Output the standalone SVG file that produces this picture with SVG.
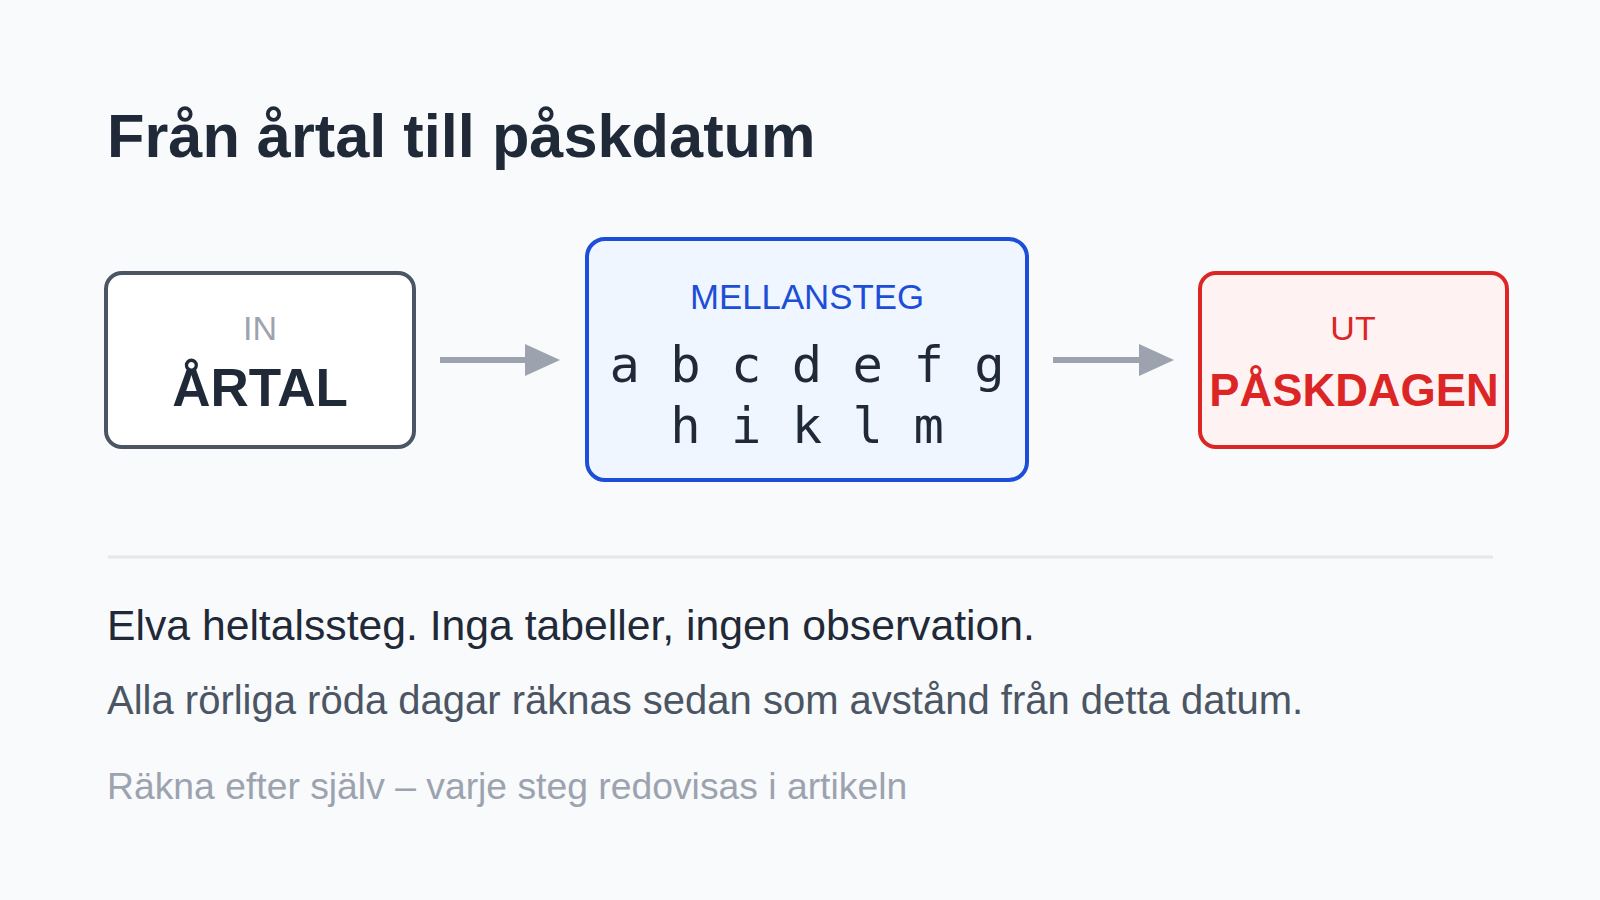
<svg xmlns="http://www.w3.org/2000/svg" width="1600" height="900" viewBox="0 0 1600 900">
  <style>
    .sans { font-family: "Liberation Sans", Arial, Helvetica, sans-serif; }
    .mono { font-family: "DejaVu Sans Mono", "Liberation Mono", monospace; }
    .box { stroke-width: 4; }
    .conn { stroke: #9ca3af; stroke-width: 6; fill: none; }
  </style>
  <defs>
    <marker id="arrow" markerUnits="userSpaceOnUse" viewBox="0 0 35 32" refX="0" refY="16" markerWidth="35" markerHeight="32" orient="auto">
      <path d="M0,0 L35,16 L0,32 Z" fill="#9ca3af"/>
    </marker>
  </defs>
  <rect x="0" y="0" width="1600" height="900" fill="#f8fafc"/>

  <text class="sans" x="107" y="157" font-size="61.3" font-weight="bold" fill="#1f2937">Från årtal till påskdatum</text>

  <g id="node-in">
    <rect class="box" x="106" y="273" width="308" height="174" rx="16" fill="#ffffff" stroke="#4b5563"/>
    <text class="sans" x="260" y="340" font-size="34" text-anchor="middle" fill="#9ca3af">IN</text>
    <text class="sans" x="260" y="406" font-size="53" font-weight="bold" text-anchor="middle" fill="#1f2937">ÅRTAL</text>
  </g>

  <g id="node-mid">
    <rect class="box" x="587" y="239" width="440" height="241" rx="18" fill="#eff6ff" stroke="#1d4ed8"/>
    <text class="sans" x="807" y="309" font-size="34.8" text-anchor="middle" fill="#1d4ed8">MELLANSTEG</text>
    <text class="mono" x="807" y="382" font-size="50.5" text-anchor="middle" fill="#1f2937">a b c d e f g</text>
    <text class="mono" x="807" y="443" font-size="50.5" text-anchor="middle" fill="#1f2937">h i k l m</text>
  </g>

  <g id="node-out">
    <rect class="box" x="1200" y="273" width="307" height="174" rx="16" fill="#fef2f2" stroke="#dc2626"/>
    <text class="sans" x="1353" y="340" font-size="34" text-anchor="middle" fill="#dc2626">UT</text>
    <text class="sans" x="1354" y="406" font-size="45.3" font-weight="bold" text-anchor="middle" fill="#dc2626">PÅSKDAGEN</text>
  </g>

  <g id="connectors">
    <line class="conn" x1="440" y1="360" x2="525" y2="360" marker-end="url(#arrow)"/>
    <line class="conn" x1="1053" y1="360" x2="1139" y2="360" marker-end="url(#arrow)"/>
  </g>

  <line x1="108" y1="557" x2="1493" y2="557" stroke="#e5e7eb" stroke-width="3"/>

  <text class="sans" x="107" y="640" font-size="42.7" fill="#1f2937">Elva heltalssteg. Inga tabeller, ingen observation.</text>
  <text class="sans" x="107" y="714" font-size="40" fill="#4b5563">Alla rörliga röda dagar räknas sedan som avstånd från detta datum.</text>
  <text class="sans" x="107" y="799" font-size="37.3" fill="#9ca3af">Räkna efter själv – varje steg redovisas i artikeln</text>
</svg>
